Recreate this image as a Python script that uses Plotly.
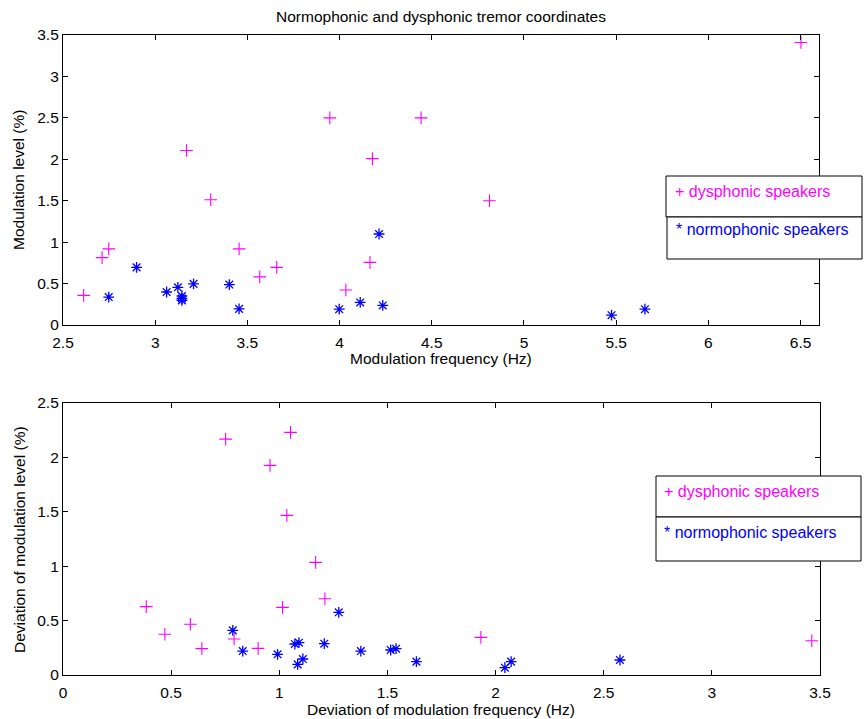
import plotly.graph_objects as go

W, H = 865, 719

# ---- data: top plot (modulation frequency vs modulation level) ----
dys_freq = [2.612, 2.712, 2.748, 3.170, 3.301, 3.455, 3.567, 3.659, 3.947, 4.034,
            4.165, 4.178, 4.442, 4.813, 6.502]
dys_level = [0.358, 0.813, 0.919, 2.106, 1.512, 0.919, 0.581, 0.695, 2.50, 0.423,
             0.756, 2.008, 2.50, 1.50, 3.41]
nor_freq = [2.748, 2.899, 3.062, 3.123, 3.145, 3.145, 3.145, 3.208, 3.402, 3.455,
            3.998, 4.112, 4.214, 4.234, 5.475, 5.656]
nor_level = [0.337, 0.695, 0.398, 0.455, 0.350, 0.320, 0.297, 0.496, 0.488, 0.195,
             0.191, 0.272, 1.098, 0.236, 0.118, 0.191]

# ---- data: bottom plot (deviations) ----
dys_dfreq = [0.385, 0.471, 0.589, 0.642, 0.752, 0.791, 0.902, 0.957, 1.015, 1.035,
             1.052, 1.168, 1.211, 1.932, 3.462]
dys_dlevel = [0.628, 0.374, 0.466, 0.242, 2.168, 0.331, 0.245, 1.927, 0.622, 1.467,
              2.230, 1.035, 0.701, 0.346, 0.315]
nor_dfreq = [0.785, 0.831, 0.992, 1.072, 1.091, 1.085, 1.109, 1.208, 1.275, 1.377,
             1.515, 1.540, 1.634, 2.043, 2.072, 2.575]
nor_dlevel = [0.410, 0.220, 0.190, 0.285, 0.297, 0.098, 0.147, 0.288, 0.576, 0.220,
              0.230, 0.242, 0.123, 0.067, 0.123, 0.138]

top_xticks = [2.5, 3, 3.5, 4, 4.5, 5, 5.5, 6, 6.5]
top_yticks = [0, 0.5, 1, 1.5, 2, 2.5, 3, 3.5]
bot_xticks = [0, 0.5, 1, 1.5, 2, 2.5, 3, 3.5]
bot_yticks = [0, 0.5, 1, 1.5, 2, 2.5]

MAG = "#FF00FF"
BLU = "#0000FF"
FONT = "Liberation Sans, Arial, sans-serif"
FS = 15.5


def px(x):
    return x / W


def py(y):
    return 1 - y / H


fig = go.Figure()

plus_marker = dict(symbol="cross-thin-open", size=9, color=MAG, line=dict(color=MAG, width=1.1))
star_marker = dict(symbol="asterisk-open", size=9, color=BLU, line=dict(color=BLU, width=1.3))

fig.add_trace(go.Scatter(x=dys_freq, y=dys_level, mode="markers", marker=plus_marker,
                         xaxis="x", yaxis="y", showlegend=False))
fig.add_trace(go.Scatter(x=nor_freq, y=nor_level, mode="markers", marker=star_marker,
                         xaxis="x", yaxis="y", showlegend=False))
fig.add_trace(go.Scatter(x=dys_dfreq, y=dys_dlevel, mode="markers", marker=plus_marker,
                         xaxis="x2", yaxis="y2", showlegend=False))
fig.add_trace(go.Scatter(x=nor_dfreq, y=nor_dlevel, mode="markers", marker=star_marker,
                         xaxis="x2", yaxis="y2", showlegend=False))

axis_common = dict(showline=True, linecolor="black", linewidth=1.2, mirror="ticks",
                   ticks="inside", ticklen=5, tickcolor="black", showgrid=False,
                   zeroline=False, automargin=False,
                   tickfont=dict(family=FONT, size=FS, color="black"))

fig.update_layout(
    width=W, height=H,
    margin=dict(l=0, r=0, t=0, b=0, autoexpand=False),
    paper_bgcolor="white", plot_bgcolor="white",
    showlegend=False,
    xaxis=dict(domain=[px(63), px(819)], range=[2.5, 6.6], tickvals=top_xticks,
               ticktext=[f"{v:g}" for v in top_xticks], anchor="y",
               ticklabelstandoff=3, **axis_common),
    yaxis=dict(domain=[py(325), py(35)], range=[0, 3.5], tickvals=top_yticks,
               ticktext=[f"{v:g}" for v in top_yticks], anchor="x", **axis_common),
    xaxis2=dict(domain=[px(63), px(820)], range=[0, 3.5], tickvals=bot_xticks,
                ticktext=[f"{v:g}" for v in bot_xticks], anchor="y2",
                ticklabelstandoff=3, **axis_common),
    yaxis2=dict(domain=[py(675), py(403)], range=[0, 2.5], tickvals=bot_yticks,
                ticktext=[f"{v:g}" for v in bot_yticks], anchor="x2", **axis_common),
)

annotations = [
    dict(text="Normophonic and dysphonic tremor coordinates", x=px(441), y=py(17)),
    dict(text="Modulation frequency (Hz)", x=px(441), y=py(358)),
    dict(text="Modulation level (%)", x=px(19), y=py(180), textangle=-90),
    dict(text="Deviation of modulation frequency (Hz)", x=px(441), y=py(709)),
    dict(text="Deviation of modulation level (%)", x=px(19), y=py(540), textangle=-90),
]
for a in annotations:
    fig.add_annotation(xref="paper", yref="paper", showarrow=False,
                       xanchor="center", yanchor="middle",
                       font=dict(family=FONT, size=FS, color="black"), **a)

# legend-like boxes (as drawn in the original figure)
boxes = [
    (666, 176, 862, 217), (667, 217, 862, 259),
    (656, 476, 861, 517), (656, 517, 861, 561),
]
for x0, y0, x1, y1 in boxes:
    fig.add_shape(type="rect", xref="paper", yref="paper",
                  x0=px(x0), x1=px(x1), y0=py(y1), y1=py(y0),
                  line=dict(color="black", width=1), fillcolor="white", layer="above")

legend_texts = [
    ("+ dysphonic speakers", MAG, 673, 191),
    ("* normophonic speakers", BLU, 674, 230),
    ("+ dysphonic speakers", MAG, 662, 491),
    ("* normophonic speakers", BLU, 662, 532),
]
for t, c, x, y in legend_texts:
    fig.add_annotation(xref="paper", yref="paper", showarrow=False, text=t,
                       x=px(x), y=py(y), xanchor="left", yanchor="middle",
                       font=dict(family=FONT, size=16, color=c))

fig.write_html("out.html")
